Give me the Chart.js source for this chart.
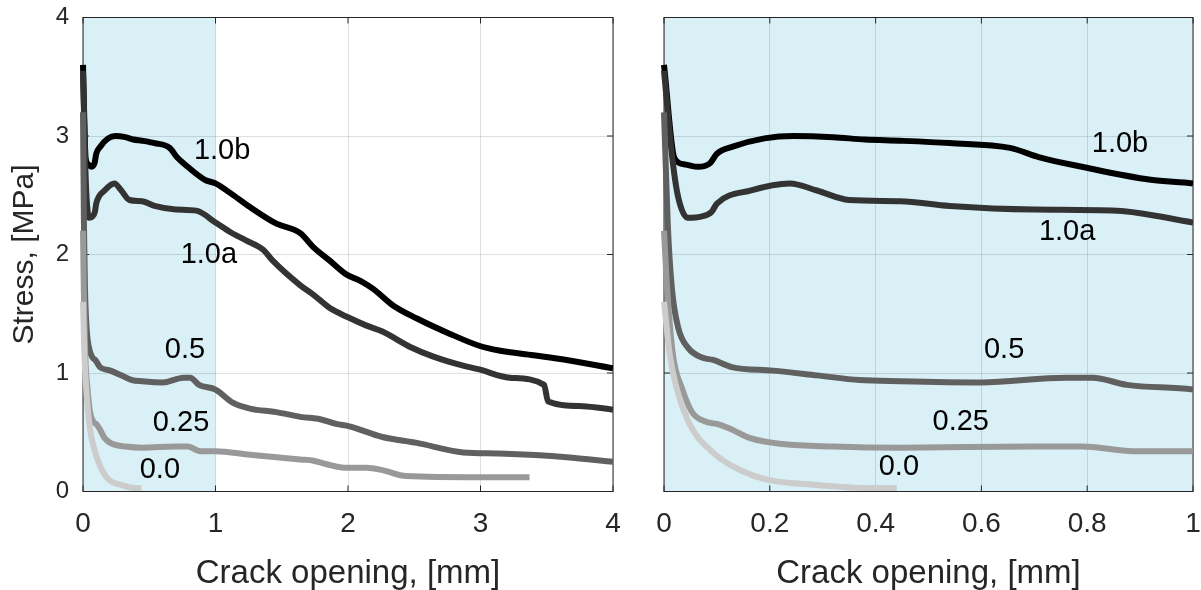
<!DOCTYPE html>
<html>
<head>
<meta charset="utf-8">
<script src="https://cdn.jsdelivr.net/npm/chart.js@4"></script>
<style>
html,body{margin:0;padding:0;background:#fff;}
#wrap{position:relative;width:1201px;height:590px;}
canvas{position:absolute;top:0;}
#left{left:0;}
#right{left:640px;}
</style>
</head>
<body>
<div id="wrap">
<canvas id="left" width="640" height="590"></canvas>
<canvas id="right" width="561" height="590"></canvas>
</div>
<script>
// series names (fibre content) and line colours
const names = ["0.0", "0.25", "0.5", "1.0a", "1.0b"];
const colors = ["#cccccc", "#999999", "#606060", "#333333", "#000000"];

// crack opening [mm] and stress [MPa] for each series
const w00  = [0, 0.011, 0.024, 0.046, 0.065, 0.085, 0.106, 0.144, 0.195, 0.289, 0.383, 0.44];
const s00  = [1.6, 1.15, 0.87, 0.59, 0.45, 0.36, 0.28, 0.18, 0.10, 0.055, 0.03, 0.03];

const w025 = [0, 0.006, 0.017, 0.034, 0.053, 0.078, 0.1, 0.125, 0.163, 0.225, 0.32, 0.446, 0.70, 0.79, 0.887, 1.0, 1.26, 1.64, 1.74, 1.84, 1.99, 2.14, 2.26, 2.44, 2.99, 3.37];
const s025 = [2.2, 1.71, 1.15, 0.87, 0.67, 0.59, 0.57, 0.53, 0.45, 0.40, 0.38, 0.37, 0.38, 0.38, 0.34, 0.34, 0.31, 0.27, 0.26, 0.23, 0.20, 0.20, 0.18, 0.13, 0.12, 0.12];

const w05  = [0, 0.007, 0.015, 0.027, 0.046, 0.072, 0.093, 0.128, 0.206, 0.289, 0.37, 0.446, 0.60, 0.76, 0.81, 0.875, 1.0, 1.13, 1.26, 1.46, 1.64, 1.79, 1.91, 2.01, 2.26, 2.52, 2.87, 3.14, 3.65, 4.0];
const s05  = [3.2, 2.27, 1.71, 1.38, 1.21, 1.13, 1.11, 1.05, 1.02, 0.98, 0.94, 0.93, 0.92, 0.96, 0.96, 0.90, 0.86, 0.75, 0.70, 0.67, 0.63, 0.61, 0.57, 0.55, 0.46, 0.41, 0.33, 0.32, 0.29, 0.25];

const w10a = [0, 0.015, 0.026, 0.045, 0.07, 0.09, 0.1, 0.163, 0.238, 0.289, 0.35, 0.446, 0.54, 0.70, 0.856, 1.0, 1.11, 1.23, 1.36, 1.43, 1.64, 1.74, 1.86, 2.0, 2.14, 2.26, 2.47, 2.64, 2.84, 2.99, 3.22, 3.48, 3.51, 3.77, 4.0];
const s10a = [3.55, 2.84, 2.50, 2.31, 2.32, 2.36, 2.43, 2.54, 2.60, 2.54, 2.46, 2.45, 2.41, 2.38, 2.37, 2.27, 2.19, 2.12, 2.04, 1.95, 1.74, 1.66, 1.55, 1.47, 1.40, 1.35, 1.22, 1.14, 1.07, 1.03, 0.96, 0.90, 0.76, 0.72, 0.69];

const w10b = [0, 0.02, 0.04, 0.064, 0.087, 0.1, 0.13, 0.19, 0.245, 0.32, 0.38, 0.446, 0.54, 0.654, 0.71, 0.79, 0.92, 1.0, 1.11, 1.26, 1.46, 1.64, 1.74, 1.86, 1.99, 2.09, 2.19, 2.34, 2.52, 2.77, 2.99, 3.14, 3.40, 3.65, 4.0];
const s10b = [3.6, 2.81, 2.76, 2.74, 2.77, 2.85, 2.91, 2.98, 3.0, 2.99, 2.97, 2.96, 2.94, 2.90, 2.82, 2.74, 2.63, 2.60, 2.52, 2.40, 2.26, 2.18, 2.06, 1.95, 1.83, 1.78, 1.71, 1.57, 1.46, 1.33, 1.23, 1.19, 1.15, 1.11, 1.04];

const openings = [w00, w025, w05, w10a, w10b];
const stresses = [s00, s025, s05, s10a, s10b];

// where the series names sit (data units)
const leftLabelX  = [0.58, 0.74, 0.77, 0.95, 1.05];
const leftLabelY  = [0.18, 0.58, 1.19, 2.00, 2.87];
const rightLabelX = [0.444, 0.561, 0.643, 0.762, 0.862];
const rightLabelY = [0.21, 0.59, 1.19, 2.19, 2.93];

const FONT = "'Liberation Sans', Arial, sans-serif";
const axisColor = "#262626";
const gridColor = "rgba(38,38,38,0.15)";
const shadeColor = "#d9f0f6";

// light blue band behind the curves
const shadePlugin = {
  id: "shade",
  beforeDraw(chart, args, opts){
    const {ctx, chartArea:a, scales:{x}} = chart;
    const x1 = Math.min(x.getPixelForValue(opts.to), a.right);
    ctx.save();
    ctx.fillStyle = shadeColor;
    ctx.fillRect(a.left, a.top, x1 - a.left, a.bottom - a.top);
    ctx.restore();
  }
};

// box round the axes with inward ticks on all sides
const framePlugin = {
  id: "frame",
  beforeDatasetsDraw(chart){
    const {ctx, chartArea:a, scales:{x, y}} = chart;
    ctx.save();
    ctx.strokeStyle = axisColor;
    ctx.lineWidth = 1;
    ctx.strokeRect(a.left, a.top, a.right - a.left, a.bottom - a.top);
    ctx.beginPath();
    x.ticks.forEach(t=>{
      const p = x.getPixelForValue(t.value);
      ctx.moveTo(p, a.bottom); ctx.lineTo(p, a.bottom - 6);
      ctx.moveTo(p, a.top); ctx.lineTo(p, a.top + 6);
    });
    y.ticks.forEach(t=>{
      const p = y.getPixelForValue(t.value);
      ctx.moveTo(a.left, p); ctx.lineTo(a.left + 6, p);
      ctx.moveTo(a.right, p); ctx.lineTo(a.right - 6, p);
    });
    ctx.stroke();
    ctx.restore();
  }
};

// series names written next to the curves
const namePlugin = {
  id: "names",
  afterDatasetsDraw(chart, args, opts){
    const {ctx, scales:{x, y}} = chart;
    ctx.save();
    ctx.font = "29px " + FONT;
    ctx.fillStyle = "#000";
    ctx.textAlign = "center";
    ctx.textBaseline = "middle";
    names.forEach((n, i)=>{
      ctx.fillText(n, x.getPixelForValue(opts.xs[i]), y.getPixelForValue(opts.ys[i]));
    });
    ctx.restore();
  }
};

function makeDatasets(){
  return names.map((n, i)=>({
    label: n,
    data: openings[i].map((w, j)=>({x: w, y: stresses[i][j]})),
    borderColor: colors[i],
    borderWidth: 6,
    pointRadius: 0,
    fill: false,
    cubicInterpolationMode: "monotone",
    borderJoinStyle: "round",
    clip: {left: 5, top: 0, right: 0, bottom: 5}
  }));
}

function createChart(canvas, xMax, xStep, yLabels, rightPad, labelX, labelY){
  return new Chart(canvas, {
    type: "line",
    data: {datasets: makeDatasets()},
    options: {
      responsive: false,
      animation: false,
      layout: {padding: {top: 17.5, right: rightPad, bottom: 0, left: 0}},
      scales: {
        x: {
          type: "linear", min: 0, max: xMax,
          ticks: {stepSize: xStep, color: axisColor, font: {size: 28, family: FONT}, padding: 16, maxRotation: 0,
                  callback: v => String(+v.toFixed(2))},
          grid: {color: gridColor, drawTicks: false},
          border: {display: false},
          title: {display: true, text: "Crack opening, [mm]", color: axisColor, font: {size: 33, family: FONT, lineHeight: 1}, padding: {top: 0, bottom: 0}},
          afterFit: s=>{ s.height = 98.5; s.paddingLeft = 0; s.paddingRight = 0; }
        },
        y: {
          type: "linear", min: 0, max: 4,
          ticks: {stepSize: 1, display: yLabels, color: axisColor, font: {size: 24, family: FONT}, padding: 14},
          grid: {color: gridColor, drawTicks: false},
          border: {display: false},
          title: {display: yLabels, text: "Stress, [MPa]", color: axisColor, font: {size: 30, family: FONT}, padding: {top: 7, bottom: 0}},
          afterFit: s=>{ s.width = yLabels ? 83 : 24; s.paddingTop = 0; s.paddingBottom = 0; }
        }
      },
      plugins: {
        legend: {display: false},
        tooltip: {enabled: false},
        shade: {to: 1},
        names: {xs: labelX, ys: labelY}
      }
    },
    plugins: [shadePlugin, framePlugin, namePlugin]
  });
}

createChart(document.getElementById("left"), 4, 1, true, 27, leftLabelX, leftLabelY);
createChart(document.getElementById("right"), 1, 0.2, false, 8, rightLabelX, rightLabelY);
</script>
</body>
</html>
